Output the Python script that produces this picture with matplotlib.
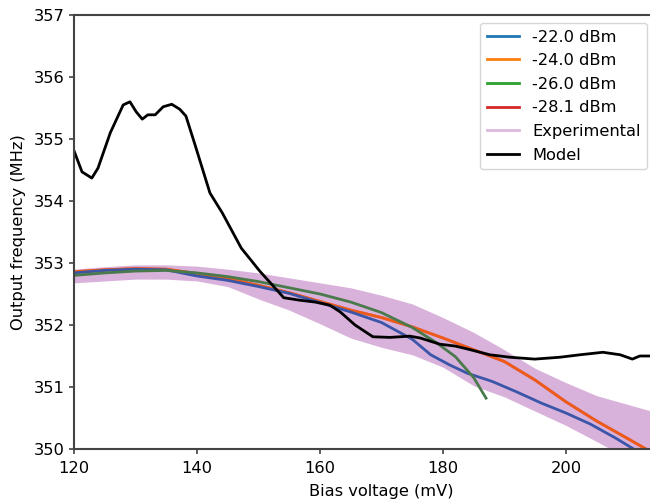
import numpy as np
import matplotlib
matplotlib.use("Agg")
import matplotlib.pyplot as plt
from matplotlib.lines import Line2D

# experimental band (lower / upper edge)
exp_x = [120, 125, 130, 135, 140, 145, 150, 155, 160, 165, 170, 175, 180,
         185, 190, 195, 200, 205, 210, 215]
exp_hi = [352.90, 352.94, 352.97, 352.97, 352.95, 352.90, 352.84, 352.76,
          352.68, 352.60, 352.48, 352.34, 352.12, 351.88, 351.60, 351.30,
          351.07, 350.86, 350.72, 350.58]
exp_lo = [352.68, 352.71, 352.74, 352.74, 352.71, 352.62, 352.42, 352.24,
          352.02, 351.79, 351.64, 351.52, 351.32, 351.02, 350.84, 350.61,
          350.38, 350.12, 349.85, 349.60]

# simulated curves
x_22 = [120, 125, 130, 135, 140, 145, 150, 155, 160, 165, 170, 175, 178, 181,
        184, 188, 192, 196, 200, 204, 208, 211]
y_22 = [352.84, 352.88, 352.90, 352.89, 352.79, 352.72, 352.62, 352.51,
        352.36, 352.21, 352.04, 351.77, 351.52, 351.36, 351.22, 351.09,
        350.92, 350.74, 350.58, 350.40, 350.18, 350.00]

x_24 = [120, 125, 130, 135, 140, 145, 150, 155, 160, 165, 170, 175, 180, 185,
        190, 195, 200, 205, 210, 213]
y_24 = [352.86, 352.89, 352.91, 352.90, 352.83, 352.75, 352.64, 352.52,
        352.38, 352.24, 352.12, 351.97, 351.79, 351.60, 351.41, 351.11,
        350.76, 350.45, 350.17, 350.00]

x_26 = [120, 125, 130, 135, 140, 145, 150, 155, 160, 165, 170, 175, 179, 182,
        185, 187]
y_26 = [352.80, 352.84, 352.87, 352.88, 352.84, 352.78, 352.70, 352.60,
        352.50, 352.37, 352.20, 351.96, 351.71, 351.49, 351.15, 350.82]

x_28 = x_24
y_28 = y_24

# model
model_x = [120, 121.3, 122.9, 123.9, 125.9, 128.0, 129.1, 130.1, 131.1, 132.0,
           133.2, 134.5, 135.9, 137.2, 138.2, 139.7, 142.1, 144.1, 147.2,
           150.2, 152.2, 154.1, 156.7, 159.2, 161.6, 163.3, 165.7, 168.6,
           171.4, 174.6, 176.3, 179.5, 182.0, 184.1, 187.6, 190.9, 194.9,
           199.0, 202.3, 206.0, 208.8, 210.8, 212.0, 214.0]
model_y = [354.81, 354.47, 354.37, 354.53, 355.10, 355.55, 355.60, 355.44,
           355.32, 355.39, 355.39, 355.52, 355.56, 355.48, 355.37, 354.90,
           354.13, 353.81, 353.24, 352.87, 352.65, 352.44, 352.40, 352.37,
           352.32, 352.21, 352.00, 351.81, 351.80, 351.82, 351.79, 351.69,
           351.66, 351.61, 351.52, 351.48, 351.45, 351.48, 351.52, 351.56,
           351.52, 351.45, 351.50, 351.50]

labels = ["-22.0 dBm", "-24.0 dBm", "-26.0 dBm", "-28.1 dBm"]
legend_colors = ["#1f77b4", "#ff7f0e", "#2ca02c", "#d62728"]
band_color = "#d8b2da"

plt.rcParams["font.size"] = 11.7

fig = plt.figure(figsize=(6.5, 4.99), dpi=100)
ax = fig.add_axes([74 / 650, 50 / 499, 615 / 650, 434 / 499])

ax.fill_between(exp_x, exp_lo, exp_hi, color=band_color, lw=0)
ax.plot(x_28, y_28, color="#d62728", lw=2)
ax.plot(x_24, y_24, color="#ff7f0e", lw=2, alpha=0.6)
ax.plot(x_22, y_22, color="#3b55a8", lw=2)
ax.plot(x_26, y_26, color="#4a7a4c", lw=2)
ax.plot(model_x, model_y, color="black", lw=2)

ax.set_xlim(120, 220)
ax.set_ylim(350, 357)
ax.set_xticks(np.arange(120, 201, 20))
ax.set_yticks(np.arange(350, 358, 1))
ax.set_xlabel("Bias voltage (mV)", labelpad=6)
ax.set_ylabel("Output frequency (MHz)", labelpad=6)

for s in ax.spines.values():
    s.set_color("#444444")
    s.set_linewidth(1.5)
ax.tick_params(color="#444444", width=1.2)
ax.tick_params(axis="x", pad=5)
ax.tick_params(axis="y", pad=3)

handles = [Line2D([], [], color=c, lw=2) for c in legend_colors]
handles.append(Line2D([], [], color="#dcb8df", lw=2))
handles.append(Line2D([], [], color="black", lw=2))
fig.legend(handles, labels + ["Experimental", "Model"], loc="upper right",
           bbox_to_anchor=(647 / 650, 476 / 499), borderaxespad=0,
           labelspacing=0.53)

fig.savefig("out.png", dpi=100)
